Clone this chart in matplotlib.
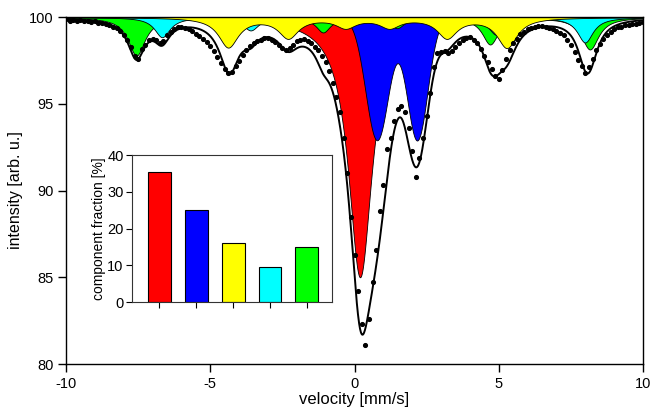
import numpy as np
import matplotlib
matplotlib.use("Agg")
import matplotlib.pyplot as plt

plt.rcParams['font.family'] = ['Liberation Sans', 'DejaVu Sans']
plt.rcParams['axes.unicode_minus'] = False

# measured spectrum: channels every 0.125 mm/s from -10 to 10
velocity = np.arange(161) * 0.125 - 10.0
intensity = [
    99.88, 99.80, 99.85, 99.78, 99.82, 99.75, 99.80, 99.72,
    99.76, 99.68, 99.64, 99.58, 99.55, 99.45, 99.35, 99.18,
    98.95, 98.65, 98.25, 97.75, 97.60, 98.15, 98.40, 98.70,
    98.75, 98.65, 98.50, 98.60, 98.95, 99.15, 99.30, 99.40,
    99.42, 99.35, 99.30, 99.18, 99.05, 98.90, 98.75, 98.55,
    98.35, 98.05, 97.70, 97.35, 97.00, 96.75, 96.85, 97.15,
    97.45, 97.80, 98.10, 98.35, 98.50, 98.62, 98.70, 98.78,
    98.80, 98.70, 98.55, 98.40, 98.20, 98.10, 98.20, 98.40,
    98.60, 98.70, 98.72, 98.62, 98.50, 98.30, 98.10, 97.75,
    97.40, 96.90, 96.20, 95.40, 94.50, 93.00, 91.00, 88.50,
    86.30, 84.20, 82.30, 81.10, 82.60, 84.70, 86.60, 88.80,
    90.30, 92.40, 93.00, 94.00, 94.70, 94.90, 94.50, 93.60,
    92.30, 90.80, 91.90, 93.00, 94.30, 95.60, 97.10, 97.90,
    98.00, 98.05, 97.95, 98.05, 98.25, 98.50, 98.70, 98.80,
    98.85, 98.70, 98.50, 98.15, 97.75, 97.40, 97.00, 96.60,
    96.45, 96.95, 97.60, 98.10, 98.50, 98.75, 99.00, 99.15,
    99.30, 99.38, 99.45, 99.50, 99.50, 99.45, 99.38, 99.30,
    99.22, 99.10, 98.95, 98.70, 98.40, 98.00, 97.55, 97.15,
    96.80, 97.10, 97.60, 98.10, 98.45, 98.75, 98.95, 99.15,
    99.30, 99.40, 99.45, 99.52, 99.55, 99.60, 99.62, 99.68,
    99.72,
]

# fitted sub-spectra (line position, depth, half width)
red_pos = [0.19]
red_depth = [15.0]
red_width = [0.50]

blue_pos = [0.78, 2.17]
blue_depth = [7.1, 7.1]
blue_width = [0.40, 0.36]          # gaussian sigma

yellow_pos = [-4.38, -2.30, -0.31, 1.21, 3.20, 5.28]
yellow_depth = [1.70, 1.15, 0.55, 0.55, 1.15, 1.73]
yellow_width = [0.42, 0.42, 0.42, 0.42, 0.42, 0.42]

green_pos = [-7.56, -4.30, -1.09, 1.47, 4.70, 8.16]
green_depth = [2.20, 1.20, 0.85, 0.60, 1.55, 1.85]
green_width = [0.36, 0.36, 0.30, 0.30, 0.34, 0.36]

cyan_pos = [-6.67, -3.60, -0.50, 1.82, 4.91, 7.99]
cyan_depth = [1.15, 0.75, 0.30, 0.30, 1.00, 1.45]
cyan_width = [0.33, 0.33, 0.33, 0.33, 0.33, 0.33]

fractions = [35.5, 25, 16, 9.5, 15]
bar_colors = ['#ff0000', '#0000ff', '#ffff00', '#00ffff', '#00ff00']


def lorentz(v, pos, depth, width):
    out = np.zeros_like(v)
    for p, d, w in zip(pos, depth, width):
        out += d * w**2 / ((v - p)**2 + w**2)
    return out


def gauss(v, pos, depth, width):
    out = np.zeros_like(v)
    for p, d, s in zip(pos, depth, width):
        out += d * np.exp(-(v - p)**2 / (2 * s**2))
    return out


v = np.linspace(-10, 10, 2001)
red = lorentz(v, red_pos, red_depth, red_width)
blue = gauss(v, blue_pos, blue_depth, blue_width)
yellow = lorentz(v, yellow_pos, yellow_depth, yellow_width)
green = lorentz(v, green_pos, green_depth, green_width)
cyan = lorentz(v, cyan_pos, cyan_depth, cyan_width)
fit = 100 - (red + blue + yellow + green + cyan)

fig = plt.figure(figsize=(6.71, 4.16), dpi=100)
ax = fig.add_axes([0.0984, 0.125, 0.8599, 0.834])

for comp, col in [(red, '#ff0000'), (blue, '#0000ff'), (green, '#00ff00'),
                  (cyan, '#00ffff'), (yellow, '#ffff00')]:
    ax.fill_between(v, 100, 100 - comp, facecolor=col, edgecolor='black', linewidth=0.6)

ax.plot(velocity, intensity, 'o', color='black', markersize=2.7, zorder=4)
ax.plot(v, fit, color='black', linewidth=1.4, zorder=5)

ax.set_xlim(-10, 10)
ax.set_ylim(80, 100)
ax.set_xticks([-10, -5, 0, 5, 10])
ax.set_yticks([80, 85, 90, 95, 100])
ax.tick_params(direction='out', length=6, width=1, labelsize=10.5, pad=3)
ax.set_xlabel('velocity [mm/s]', fontsize=12, labelpad=1)
ax.set_ylabel('intensity [arb. u.]', fontsize=11.5, labelpad=4)
for s in ax.spines.values():
    s.set_linewidth(1)

# inset with component fractions
ins = fig.add_axes([0.1967, 0.274, 0.298, 0.353])
ins.bar(range(len(fractions)), fractions, width=0.62, color=bar_colors,
        edgecolor='black', linewidth=0.8)
ins.set_xlim(-0.74, 4.68)
ins.set_ylim(0, 40)
ins.set_yticks([0, 10, 20, 30, 40])
ins.set_xticks(range(len(fractions)))
ins.set_xticklabels([])
ins.tick_params(direction='out', length=4, width=0.8, labelsize=10.5, pad=2)
ins.set_ylabel('component fraction [%]', fontsize=10, labelpad=1)
for s in ins.spines.values():
    s.set_linewidth(0.8)
    s.set_color('#333333')

fig.savefig('out.png', dpi=100)
